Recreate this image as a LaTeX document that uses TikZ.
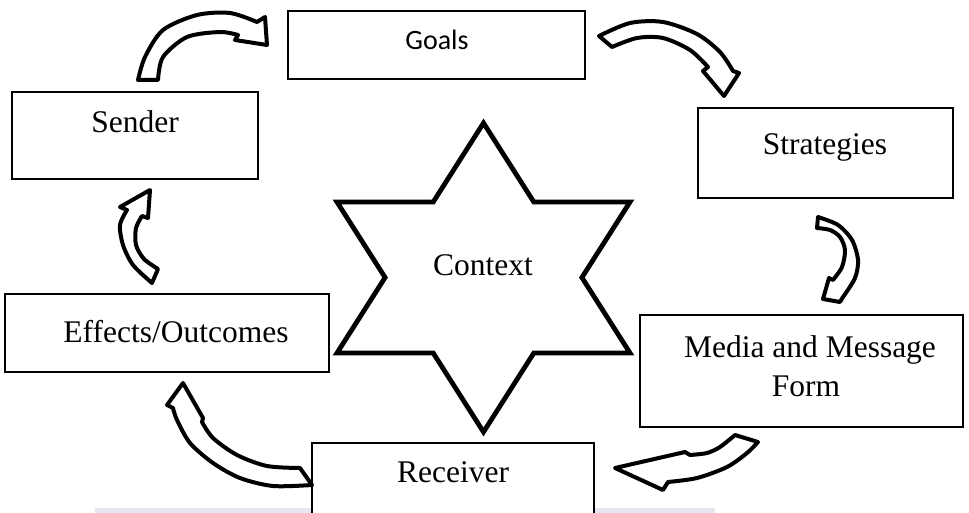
\documentclass[tikz,border=0pt]{standalone}
\usepackage{fontspec}
\setmainfont{Liberation Serif}
\newfontfamily\goalsfont{Carlito}
\definecolor{bandcolor}{RGB}{228,230,240}
\begin{document}
\begin{tikzpicture}[x=1pt,y=-1pt,
  box/.style={draw, line width=1.4pt, fill=white, inner sep=0pt},
  lbl/.style={font=\fontsize{31.5}{38}\selectfont, inner sep=0pt, anchor=base},
  blockarrow/.style={draw, line width=4pt, fill=white, line join=round},
  starline/.style={draw, line width=4.8pt, fill=white, line join=miter}
]
\clip (0,0) rectangle (969,513);
\fill[white] (0,0) rectangle (969,513);
% faint band along the lower edge
\fill[bandcolor] (95,508) rectangle (715,513);

% boxes
\node[box, minimum width=297pt, minimum height=68pt] (goals) at (436.5,45) {};
\node[box, minimum width=246pt, minimum height=87pt] (sender) at (135,135.5) {};
\node[box, minimum width=255pt, minimum height=90pt] (strategies) at (825.5,153) {};
\node[box, minimum width=324pt, minimum height=78pt] (effects) at (167,333) {};
\node[box, minimum width=323pt, minimum height=112pt] (media) at (801.5,371) {};
\node[box, minimum width=282pt, minimum height=97pt] (receiver) at (453,491.5) {};

% labels
\node[inner sep=0pt, anchor=base, font=\goalsfont\fontsize{28}{34}\selectfont] at (437,50) {Goals};
\node[lbl] at (135,133) {Sender};
\node[lbl] at (825,155) {Strategies};
\node[lbl] at (176,342) {Effects/Outcomes};
\node[lbl] at (810,357) {Media and Message};
\node[lbl] at (806,396) {Form};
\node[lbl] at (453,482) {Receiver};

% six-pointed star
\path[starline] (483.5,123) -- (533.8,202) -- (630,202) -- (581.9,277.5)
  -- (630,353) -- (533.8,353) -- (483.5,432) -- (433.2,353) -- (337,353)
  -- (385.1,277.5) -- (337,202) -- (433.2,202) -- cycle;
\node[lbl] (context) at (483,275) {Context};

% curved block arrows
% Sender -> Goals
\path[blockarrow] plot[smooth] coordinates {(138,80) (145,57) (163,30) (197,15) (230,13) (257,22)}
  -- (265,17) -- (267,45) -- (235,40) -- (238,35)
  -- plot[smooth] coordinates {(238,35) (220,32) (187,37) (163,57) (158,80)} -- cycle;
% Goals -> Strategies
\path[blockarrow] plot[smooth] coordinates {(599,36) (630,23) (663,22) (697,34) (720,52) (733,71)}
  -- (739,73) -- (724,96) -- (703,71) -- (708,67)
  -- plot[smooth] coordinates {(708,67) (690,50) (663,38) (637,38) (612,47)} -- cycle;
% Strategies -> Media
\path[blockarrow] plot[smooth] coordinates {(818,217) (838,225) (852,240) (858,260) (855,278) (843,297)}
  -- (840,302) -- (823,299) -- (829,278) -- (833,280)
  -- plot[smooth] coordinates {(833,280) (842,267) (845,250) (840,237) (830,230) (817,228)} -- cycle;
% Media -> Receiver
\path[blockarrow] plot[smooth] coordinates {(735,435) (720,447) (707,453) (690,455)}
  -- (685,452) -- (615,468) -- (663,490) -- (668,482)
  -- plot[smooth] coordinates {(668,482) (697,478) (727,467) (747,453) (758,442)} -- cycle;
% Receiver -> Effects
\path[blockarrow] plot[smooth] coordinates {(300,468) (267,466) (237,455) (213,438) (202,422)}
  -- (203,418) -- (183,383) -- (167,405) -- (173,408)
  -- plot[smooth] coordinates {(173,408) (177,420) (190,443) (213,463) (240,478) (273,486) (312,485)} -- cycle;
% Effects -> Sender
\path[blockarrow] plot[smooth] coordinates {(152,283) (133,265) (123,245) (120,225) (127,210)}
  -- (120,207) -- (150,190) -- (148,218) -- (142,216)
  -- plot[smooth] coordinates {(142,216) (136,228) (136,245) (144,259) (158,269)} -- cycle;
\end{tikzpicture}
\end{document}
